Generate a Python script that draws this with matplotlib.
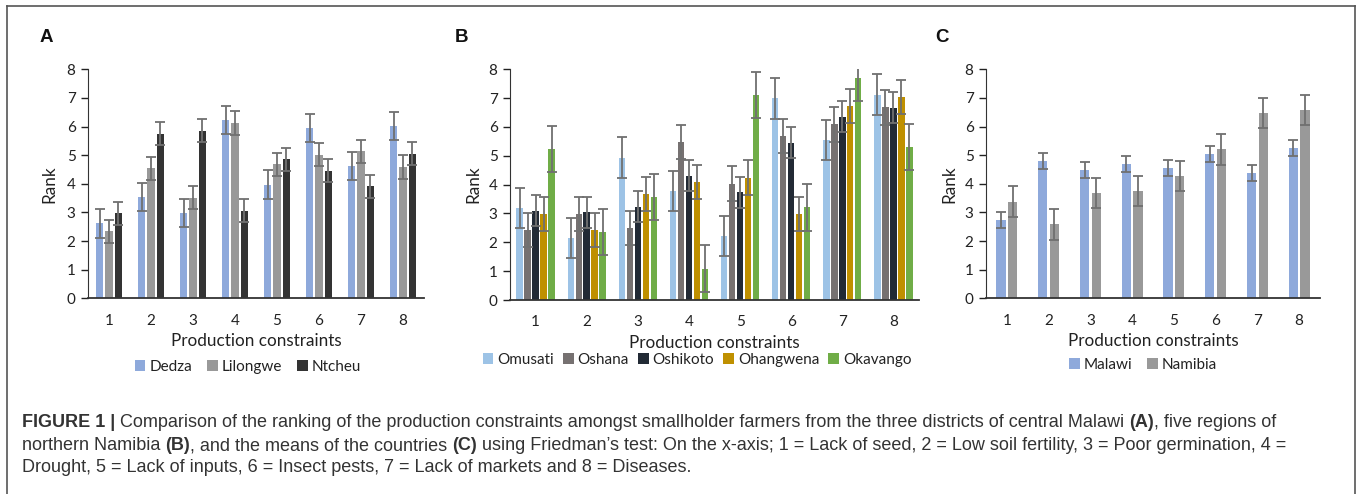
import numpy as np
import matplotlib
matplotlib.use('Agg')
import matplotlib.pyplot as plt
from matplotlib.lines import Line2D

plt.rcParams['font.family'] = ['Lato', 'DejaVu Sans']

constraints = [1, 2, 3, 4, 5, 6, 7, 8]

# A: districts of central Malawi
malawi_districts = ['Dedza', 'Lilongwe', 'Ntcheu']
dedza = [2.62, 3.54, 2.98, 6.23, 3.97, 5.95, 4.62, 6.02]
lilongwe = [2.34, 4.54, 3.52, 6.13, 4.68, 5.02, 5.13, 4.58]
ntcheu = [2.97, 5.75, 5.86, 3.06, 4.85, 4.46, 3.92, 5.05]
err_a = [0.50, 0.41, 0.40]

# B: regions of northern Namibia
namibia_regions = ['Omusati', 'Oshana', 'Oshikoto', 'Ohangwena', 'Okavango']
omusati = [3.19, 2.14, 4.94, 3.78, 2.22, 6.99, 5.55, 7.12]
oshana = [2.43, 2.98, 2.49, 5.48, 4.03, 5.69, 6.09, 6.68]
oshikoto = [3.10, 3.04, 3.24, 4.31, 3.73, 5.46, 6.36, 6.67]
ohangwena = [2.98, 2.43, 3.68, 4.09, 4.24, 2.98, 6.73, 7.04]
okavango = [5.23, 2.36, 3.57, 1.09, 7.10, 3.21, 7.69, 5.32]
err_b = [0.70, 0.60, 0.53, 0.60, 0.80]

# C: country means
countries = ['Malawi', 'Namibia']
malawi = [2.74, 4.81, 4.47, 4.68, 4.54, 5.03, 4.38, 5.25]
namibia = [3.38, 2.58, 3.67, 3.74, 4.27, 5.20, 6.48, 6.58]
err_c = [0.28, 0.53]

W, H = 1357, 494


def fx(px):
    return px / W


def fy(py):
    return 1 - py / H


def grouped_bars(ax, series, names, errs, colors, step, width):
    x = np.array(constraints, dtype=float)
    n = len(series)
    for i, (vals, name, e, c) in enumerate(zip(series, names, errs, colors)):
        pos = x + (i - (n - 1) / 2) * step
        ax.bar(pos, vals, width=width, color=c, label=name, zorder=2)
        ax.errorbar(pos, vals, yerr=e, fmt='none', ecolor='#707070',
                    elinewidth=1.3, capsize=3.8, capthick=1.3, zorder=3)
    ax.set_xlim(0.5, 8.5)
    ax.set_ylim(0, 8)
    ax.set_xticks(constraints)
    ax.set_yticks(range(0, 9))
    ax.tick_params(axis='x', length=0, labelsize=11, pad=11, colors='#222222')
    ax.tick_params(axis='y', length=5, width=1, direction='out', labelsize=11,
                   pad=4, colors='#222222')
    for s in ['top', 'right']:
        ax.spines[s].set_visible(False)
    ax.spines['left'].set_color('#333333')
    ax.spines['bottom'].set_color('#333333')
    ax.spines['bottom'].set_linewidth(1.3)
    ax.set_xlabel('Production constraints', fontsize=12.3, color='#222222', va='center')
    ax.set_ylabel('Rank', fontsize=12.3, color='#222222', va='center')


fig = plt.figure(figsize=(W / 100, H / 100), dpi=100)

# panel A
ax_a = fig.add_axes([fx(88), fy(298.3), fx(424 - 88), (298.3 - 69.3) / H])
grouped_bars(ax_a, [dedza, lilongwe, ntcheu], malawi_districts, err_a,
             ['#8EA9DB', '#999999', '#333333'], 0.22, 0.175)
ax_a.xaxis.set_label_coords(0.5, -0.186)
ax_a.yaxis.set_label_coords(-0.116, 0.5)

# panel B
ax_b = fig.add_axes([fx(510), fy(300), fx(919 - 510), (300 - 69.3) / H])
grouped_bars(ax_b, [omusati, oshana, oshikoto, ohangwena, okavango], namibia_regions, err_b,
             ['#9DC3E6', '#767171', '#222A35', '#BF9000', '#70AD47'], 0.156, 0.125)
ax_b.xaxis.set_label_coords(0.5, -0.186)
ax_b.yaxis.set_label_coords(-0.090, 0.5)

# panel C
ax_c = fig.add_axes([fx(986), fy(298.3), fx(1320 - 986), (298.3 - 69.3) / H])
grouped_bars(ax_c, [malawi, namibia], countries, err_c,
             ['#8EA9DB', '#999999'], 0.28, 0.22)
ax_c.xaxis.set_label_coords(0.5, -0.186)
ax_c.yaxis.set_label_coords(-0.111, 0.5)

# legends below each panel
for ax, cx, cy, cs in [(ax_a, 248, 367, 1.0), (ax_b, 697, 360, 0.6), (ax_c, 1143, 365, 1.0)]:
    h, l = ax.get_legend_handles_labels()
    ax.legend(h, l, loc='center', bbox_to_anchor=(fx(cx), fy(cy)),
              bbox_transform=fig.transFigure, ncol=len(l), frameon=False,
              fontsize=11, handlelength=0.7, handleheight=0.7,
              handletextpad=0.25, columnspacing=cs, borderaxespad=0,
              labelcolor='#222222')

# panel letters
for letter, px in [('A', 46), ('B', 462), ('C', 942)]:
    fig.text(fx(px), fy(38), letter, fontsize=13.5, fontweight='bold',
             family='Liberation Sans', ha='center', va='center', color='#111111')

# frame around the figure
frame_kw = dict(color='#555555', linewidth=1.2, transform=fig.transFigure)
fig.add_artist(Line2D([fx(7), fx(7)], [0, fy(6)], **frame_kw))
fig.add_artist(Line2D([fx(1355), fx(1355)], [0, fy(6)], **frame_kw))
fig.add_artist(Line2D([fx(7), fx(1355)], [fy(6), fy(6)], **frame_kw))

# caption with bold pieces
caption = [
    [('FIGURE 1 | ', 'bold'),
     ('Comparison of the ranking of the production constraints amongst smallholder farmers '
      'from the three districts of central Malawi ', 'normal'),
     ('(A)', 'bold'), (', five regions of', 'normal')],
    [('northern Namibia ', 'normal'), ('(B)', 'bold'),
     (', and the means of the countries ', 'normal'), ('(C)', 'bold'),
     (' using Friedman’s test: On the x-axis; 1 = Lack of seed, 2 = Low soil fertility, '
      '3 = Poor germination, 4 =', 'normal')],
    [('Drought, 5 = Lack of inputs, 6 = Insect pests, 7 = Lack of markets and 8 = Diseases.',
      'normal')],
]
baselines = [427, 450, 472]
renderer = fig.canvas.get_renderer()
for line, yb in zip(caption, baselines):
    x = 22
    for txt, wt in line:
        t = fig.text(fx(x), fy(yb), txt, fontsize=13, fontweight=wt,
                     family='Liberation Sans', color='#333333', va='baseline', ha='left')
        x += t.get_window_extent(renderer).width

fig.savefig('out.png', dpi=100)
